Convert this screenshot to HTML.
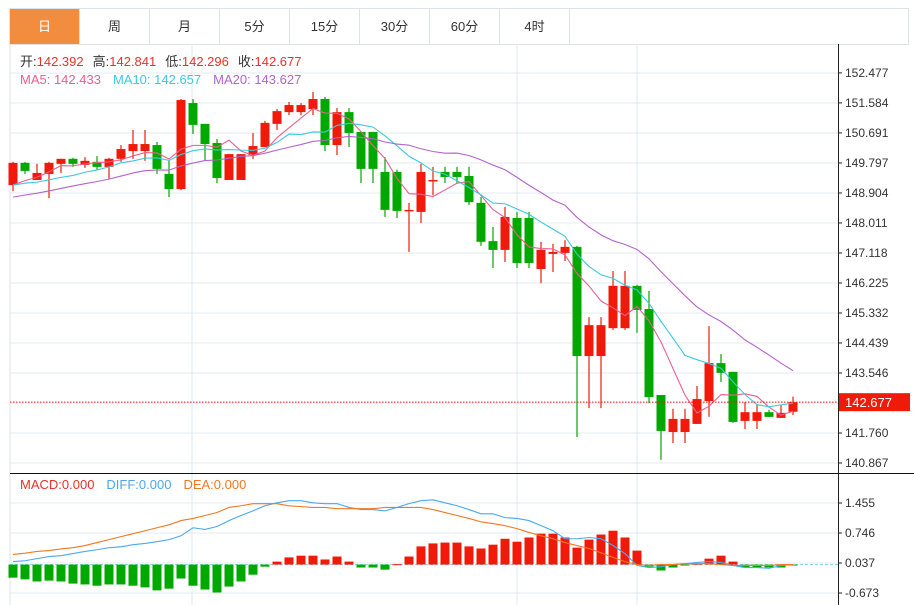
<!DOCTYPE html>
<html><head><meta charset="utf-8"><style>
body{margin:0;background:#fff;font-family:"Liberation Sans","Noto Sans CJK SC",sans-serif;}
#wrap{position:relative;width:914px;height:605px;overflow:hidden;}
.tabs{position:absolute;left:9px;top:8px;width:898px;height:35px;border:1px solid #dde3e8;border-bottom:1px solid #dde3e8;display:flex;}
.tab{width:69px;border-right:1px solid #dde3e8;text-align:center;line-height:35px;font-size:13px;color:#333;}
.tab.on{background:#f28c3f;color:#fff;}
svg{position:absolute;left:0;top:0;}
</style></head><body><div id="wrap">
<div class="tabs">
<div class="tab on">日</div>
<div class="tab">周</div>
<div class="tab">月</div>
<div class="tab">5分</div>
<div class="tab">15分</div>
<div class="tab">30分</div>
<div class="tab">60分</div>
<div class="tab">4时</div>
</div>
<svg id="c" width="914" height="605" xmlns="http://www.w3.org/2000/svg"></svg>
</div>
<script>
const opens=[149.14,149.80,149.29,149.47,149.77,149.92,149.74,149.83,149.68,149.92,150.15,150.15,150.33,149.47,149.02,151.58,150.96,150.39,149.29,149.29,150.03,150.27,150.96,151.31,151.31,151.40,151.70,150.33,151.31,150.72,150.72,149.53,149.53,148.37,148.34,149.26,149.53,149.53,149.41,148.61,147.47,147.21,148.16,148.16,146.64,147.09,147.12,147.30,144.05,144.05,144.88,144.88,146.14,145.45,142.89,141.79,141.79,142.03,142.71,143.84,143.58,142.12,142.12,142.38,142.21,142.392];
const highs=[149.83,149.83,149.77,149.83,149.92,149.95,149.97,150.00,149.95,150.33,150.78,150.78,150.42,149.86,151.70,151.70,150.96,150.51,150.06,150.06,150.69,151.05,151.40,151.61,151.58,151.91,151.76,151.43,151.43,150.72,150.72,149.97,149.60,148.61,149.77,149.68,149.68,149.68,149.68,148.78,147.89,148.49,148.34,148.34,147.45,147.39,147.50,147.33,145.21,145.21,146.58,146.58,146.17,145.99,142.89,142.48,142.48,143.16,144.94,144.11,143.58,142.68,142.62,142.45,142.59,142.841];
const lows=[148.96,149.47,149.29,148.75,149.50,149.68,149.65,149.59,149.32,149.83,149.92,149.86,149.47,148.78,148.99,150.66,149.86,149.20,149.29,149.29,149.92,150.27,150.78,151.22,151.22,151.22,150.15,150.03,150.27,149.20,149.20,148.19,148.16,147.15,148.01,148.84,149.20,149.20,148.55,147.33,146.67,146.85,146.67,146.67,146.22,146.55,146.88,141.64,142.50,142.50,144.83,144.83,144.74,142.65,140.96,141.46,141.46,142.03,142.24,143.28,142.06,141.88,141.88,142.24,142.21,142.296];
const closes=[149.80,149.56,149.50,149.80,149.92,149.77,149.86,149.68,149.92,150.21,150.36,150.36,149.62,149.02,151.67,150.93,150.36,149.35,150.06,150.06,150.30,150.99,151.34,151.52,151.52,151.70,150.33,151.31,150.69,149.62,149.62,148.40,148.37,148.40,149.53,149.29,149.38,149.38,148.63,147.45,147.21,148.19,146.82,146.82,147.21,147.15,147.30,144.05,144.97,144.97,146.14,146.14,145.42,142.83,141.82,142.18,142.18,142.77,143.84,143.55,142.09,142.38,142.38,142.24,142.36,142.677];
const priorCloses=[148.3,148.4,148.5,148.4,148.3,148.5,148.4,148.5,148.4,148.5,149.0,149.2,149.1,149.2,149.2,148.9,149.0,149.0,149.0];
const priceTicks=[152.477,151.584,150.691,149.797,148.904,148.011,147.118,146.225,145.332,144.439,143.546,141.760,140.867];
const hist=[-0.31,-0.35,-0.40,-0.38,-0.40,-0.45,-0.47,-0.50,-0.47,-0.47,-0.50,-0.54,-0.61,-0.57,-0.33,-0.50,-0.59,-0.66,-0.52,-0.40,-0.24,-0.05,0.07,0.17,0.21,0.21,0.12,0.19,0.07,-0.07,-0.07,-0.12,0.01,0.19,0.43,0.50,0.52,0.52,0.43,0.38,0.47,0.61,0.54,0.64,0.73,0.73,0.64,0.40,0.59,0.71,0.80,0.64,0.33,-0.05,-0.14,-0.07,-0.02,0.02,0.14,0.21,0.07,-0.07,-0.07,-0.07,-0.07,-0.02];
const diff=[0.07,0.09,0.14,0.19,0.21,0.26,0.31,0.35,0.40,0.42,0.47,0.50,0.54,0.59,0.68,0.87,0.83,0.90,1.04,1.16,1.27,1.39,1.46,1.51,1.51,1.46,1.44,1.44,1.35,1.30,1.30,1.27,1.35,1.44,1.51,1.53,1.46,1.39,1.30,1.20,1.20,1.11,1.09,1.04,0.92,0.80,0.61,0.61,0.64,0.61,0.45,0.26,-0.02,-0.07,-0.05,0,0.02,0.05,0.07,0.05,-0.02,-0.07,-0.07,-0.09,-0.02,0];
const dea=[0.24,0.27,0.31,0.33,0.37,0.40,0.45,0.52,0.59,0.66,0.73,0.80,0.87,0.94,1.04,1.09,1.16,1.23,1.35,1.39,1.44,1.44,1.44,1.39,1.37,1.35,1.35,1.32,1.32,1.32,1.32,1.35,1.35,1.35,1.35,1.30,1.23,1.16,1.09,1.01,0.97,0.92,0.85,0.76,0.68,0.61,0.52,0.45,0.38,0.28,0.17,0.07,0,-0.02,0,0,0.02,0.02,0.02,0,-0.02,-0.02,-0.02,-0.02,0,0];
const macdTicks=[1.455,0.746,0.037,-0.673];

const svg=document.getElementById('c');
const NS='http://www.w3.org/2000/svg';
function mk(t,a,p){const e=document.createElementNS(NS,t);for(const k in a)e.setAttribute(k,a[k]);(p||svg).appendChild(e);return e;}
const X=i=>13+i*12;
const Y=p=>463-(p-140.867)*33.6;
const MY=v=>563-(v-0.037)*42.3;
const RED='#f01a0a',GREEN='#00a800';
for(let k=0;k<14;k++){const l=mk('line',{x1:10,x2:838,y1:73+k*30,y2:73+k*30,stroke:'#e4ebf1'});}
for(let k=0;k<4;k++){const l=mk('line',{x1:10,x2:838,y1:503+k*30,y2:503+k*30,stroke:'#e4ebf1'});}
[192,517,637].forEach(x=>{const l=mk('line',{x1:x,x2:x,y1:44,y2:605,stroke:'#dfe9f1'});});
mk('line',{x1:10,x2:10,y1:44,y2:605,stroke:'#dde3e8'});
const ax=mk('line',{x1:838.5,x2:838.5,y1:44,y2:605,stroke:'#222'});
const sep=mk('line',{x1:10,x2:914,y1:473.5,y2:473.5,stroke:'#111'});
priceTicks.forEach(p=>{mk('line',{x1:838,x2:842,y1:Y(p),y2:Y(p),stroke:'#222'});const t=mk('text',{x:845,y:Y(p)+4,'font-size':12,fill:'#333'});t.textContent=p.toFixed(3);});
macdTicks.forEach(v=>{mk('line',{x1:838,x2:842,y1:MY(v),y2:MY(v),stroke:'#222'});const t=mk('text',{x:845,y:MY(v)+4,'font-size':12,fill:'#333'});t.textContent=v.toFixed(3);});
for(let i=0;i<opens.length;i++){
 const up=closes[i]>=opens[i];const col=up?RED:GREEN;
 const g=mk('g',{});
 mk('line',{x1:X(i),x2:X(i),y1:Y(highs[i]),y2:Y(lows[i]),stroke:col,'stroke-width':1.2},g);
 const t=Y(Math.max(opens[i],closes[i])),b=Y(Math.min(opens[i],closes[i]));
 mk('rect',{x:X(i)-4.5,y:t,width:9,height:Math.max(1.5,b-t),fill:col},g);
}
const all=priorCloses.concat(closes);
function ma(n){return closes.map((c,i)=>{const j=i+priorCloses.length;let s=0;for(let k=j-n+1;k<=j;k++)s+=all[k];return s/n;});}
[[5,'#ee5e8c','ma5-line'],[10,'#3cc8dc','ma10-line'],[20,'#b464cc','ma20-line']].forEach(([n,c,nm])=>{const v=ma(n);const p=mk('polyline',{points:v.map((m,i)=>X(i)+','+Y(m)).join(' '),fill:'none',stroke:c,'stroke-width':1.1});});
const dl=mk('line',{x1:10,x2:838,y1:Y(142.677),y2:Y(142.677),stroke:RED,'stroke-dasharray':'1.5,1.5'});
const pb=mk('rect',{x:839,y:Y(142.677)-9,width:71,height:18,fill:RED});
const pt=mk('text',{x:845,y:Y(142.677)+5,'font-size':13,fill:'#fff'});pt.textContent='142.677';
const zl=mk('line',{x1:10,x2:838,y1:MY(0),y2:MY(0),stroke:'#7fd3ea','stroke-dasharray':'3,2'});
hist.forEach((v,i)=>{const y0=MY(0),y1=MY(v);const r=mk('rect',{x:X(i)-4.5,y:Math.min(y0,y1),width:9,height:Math.max(1,Math.abs(y1-y0)),fill:v>=0?RED:GREEN});});
[[diff,'#4aa8f0','diff-line'],[dea,'#f07820','dea-line']].forEach(([a,c,nm])=>{const p=mk('polyline',{points:a.map((v,i)=>X(i)+','+MY(v)).join(' '),fill:'none',stroke:c,'stroke-width':1.1});});
function leg(parts,y,nm){const t=mk('text',{x:20,y:y,'font-size':13});parts.forEach(([s,c,dx])=>{const ts=mk('tspan',{fill:c},t);if(dx)ts.setAttribute('dx',dx);ts.textContent=s;});}
leg([['开:','#333'],['142.392','#e8322a'],['高:','#333',9],['142.841','#e8322a'],['低:','#333',9],['142.296','#e8322a'],['收:','#333',9],['142.677','#e8322a']],66,'ohlc-legend');
leg([['MA5: 142.433','#ee5e8c'],['MA10: 142.657','#3cc8dc',12],['MA20: 143.627','#b464cc',12]],84,'ma-legend');
leg([['MACD:0.000','#e8322a'],['DIFF:0.000','#4aa8f0',12],['DEA:0.000','#f07820',12]],489,'macd-legend');
</script></body></html>
